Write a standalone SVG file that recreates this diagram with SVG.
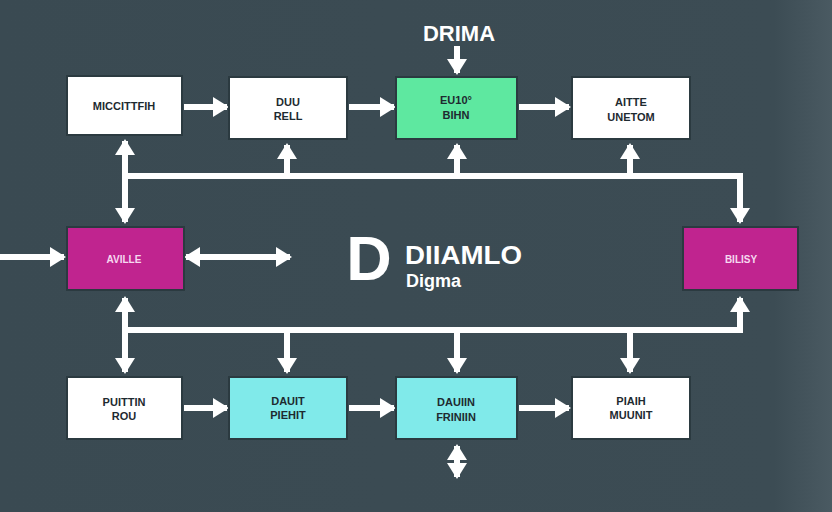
<svg xmlns="http://www.w3.org/2000/svg" width="832" height="512" viewBox="0 0 832 512">
<defs>
<linearGradient id="bg" x1="0" y1="0" x2="1" y2="0">
<stop offset="0" stop-color="#3a4a52"/>
<stop offset="0.93" stop-color="#3c4c54"/>
<stop offset="1" stop-color="#4a5a62"/>
</linearGradient>
<marker id="ah" viewBox="0 0 16 20" refX="14" refY="10" markerWidth="16" markerHeight="20" markerUnits="userSpaceOnUse" orient="auto-start-reverse">
<polygon points="0,0 16,10 0,20" fill="#ffffff"/>
</marker>
<style>
.box{stroke:#2b3a40;stroke-width:2}
.w{fill:#ffffff}
.g{fill:#5ee8a0}
.c{fill:#80eaea}
.m{fill:#c0248f}
.t{font-family:"Liberation Sans",Arial,sans-serif;font-weight:bold;font-size:11px;fill:#1e2a30;text-anchor:middle}
.tm{font-family:"Liberation Sans",Arial,sans-serif;font-weight:bold;font-size:10px;fill:#f6d8f0;text-anchor:middle}
.ln{stroke:#ffffff;stroke-width:6;fill:none}
.ar{stroke:#ffffff;stroke-width:6;fill:none;marker-end:url(#ah)}
.ar2{stroke:#ffffff;stroke-width:6;fill:none;marker-end:url(#ah);marker-start:url(#ah)}
.h{font-family:"Liberation Sans",Arial,sans-serif;font-weight:bold;fill:#ffffff}
</style>
</defs>
<rect x="0" y="0" width="832" height="512" fill="url(#bg)"/>

<g id="connectors">
<line class="ar" x1="457" y1="46" x2="457" y2="73"/>
<line class="ar" x1="184" y1="107" x2="227" y2="107"/>
<line class="ar" x1="349" y1="107" x2="394" y2="107"/>
<line class="ar" x1="519" y1="107" x2="569" y2="107"/>
<polyline class="ln" points="125,176 740,176 740,205"/>
<line class="ar" x1="740" y1="200" x2="740" y2="222"/>
<line class="ar2" x1="125" y1="141" x2="125" y2="222"/>
<line class="ar" x1="287" y1="176" x2="287" y2="145"/>
<line class="ar" x1="457" y1="176" x2="457" y2="145"/>
<line class="ar" x1="630" y1="176" x2="630" y2="145"/>
<line class="ar" x1="0" y1="257" x2="64" y2="257"/>
<line class="ar2" x1="186" y1="257" x2="290" y2="257"/>
<polyline class="ln" points="125,330 740,330 740,310"/>
<line class="ar" x1="740" y1="315" x2="740" y2="298"/>
<line class="ar2" x1="125" y1="298" x2="125" y2="372"/>
<line class="ar" x1="287" y1="330" x2="287" y2="372"/>
<line class="ar" x1="457" y1="330" x2="457" y2="372"/>
<line class="ar" x1="630" y1="330" x2="630" y2="372"/>
<line class="ar" x1="184" y1="408" x2="227" y2="408"/>
<line class="ar" x1="349" y1="408" x2="394" y2="408"/>
<line class="ar" x1="519" y1="408" x2="569" y2="408"/>
<line class="ar2" x1="457" y1="446" x2="457" y2="477"/>
</g>

<g id="title">
<text class="h" x="459" y="41" font-size="22" text-anchor="middle">DRIMA</text>
</g>

<g id="n1"><rect class="box w" x="67" y="76" width="115" height="59"/><text class="t" x="124" y="110">MICCITTFIH</text></g>
<g id="n2"><rect class="box w" x="229" y="77" width="118" height="62"/><text class="t" x="288" y="106">DUU</text><text class="t" x="288" y="120">RELL</text></g>
<g id="n3"><rect class="box g" x="396" y="77" width="121" height="62"/><text class="t" x="456" y="104">EU10°</text><text class="t" x="456" y="119">BIHN</text></g>
<g id="n4"><rect class="box w" x="572" y="77" width="118" height="62"/><text class="t" x="631" y="106">AITTE</text><text class="t" x="631" y="121">UNETOM</text></g>

<g id="n5"><rect class="box m" x="67" y="227" width="117" height="63"/><text class="tm" x="124" y="263">AVILLE</text></g>
<g id="center">
<text class="h" x="369" y="280" font-size="63" text-anchor="middle">D</text>
<text class="h" x="405" y="264" font-size="26" textLength="117" lengthAdjust="spacingAndGlyphs">DIIAMLO</text>
<text class="h" x="406" y="287" font-size="18">Digma</text>
</g>
<g id="n6"><rect class="box m" x="683" y="227" width="115" height="63"/><text class="tm" x="741" y="263">BILISY</text></g>

<g id="n7"><rect class="box w" x="67" y="377" width="115" height="62"/><text class="t" x="124" y="406">PUITTIN</text><text class="t" x="124" y="420">ROU</text></g>
<g id="n8"><rect class="box c" x="229" y="377" width="118" height="62"/><text class="t" x="288" y="405">DAUIT</text><text class="t" x="288" y="419">PIEHIT</text></g>
<g id="n9"><rect class="box c" x="396" y="377" width="121" height="62"/><text class="t" x="456" y="406">DAUIIN</text><text class="t" x="456" y="421">FRINIIN</text></g>
<g id="n10"><rect class="box w" x="572" y="377" width="118" height="62"/><text class="t" x="631" y="405">PIAIH</text><text class="t" x="631" y="419">MUUNIT</text></g>
</svg>
